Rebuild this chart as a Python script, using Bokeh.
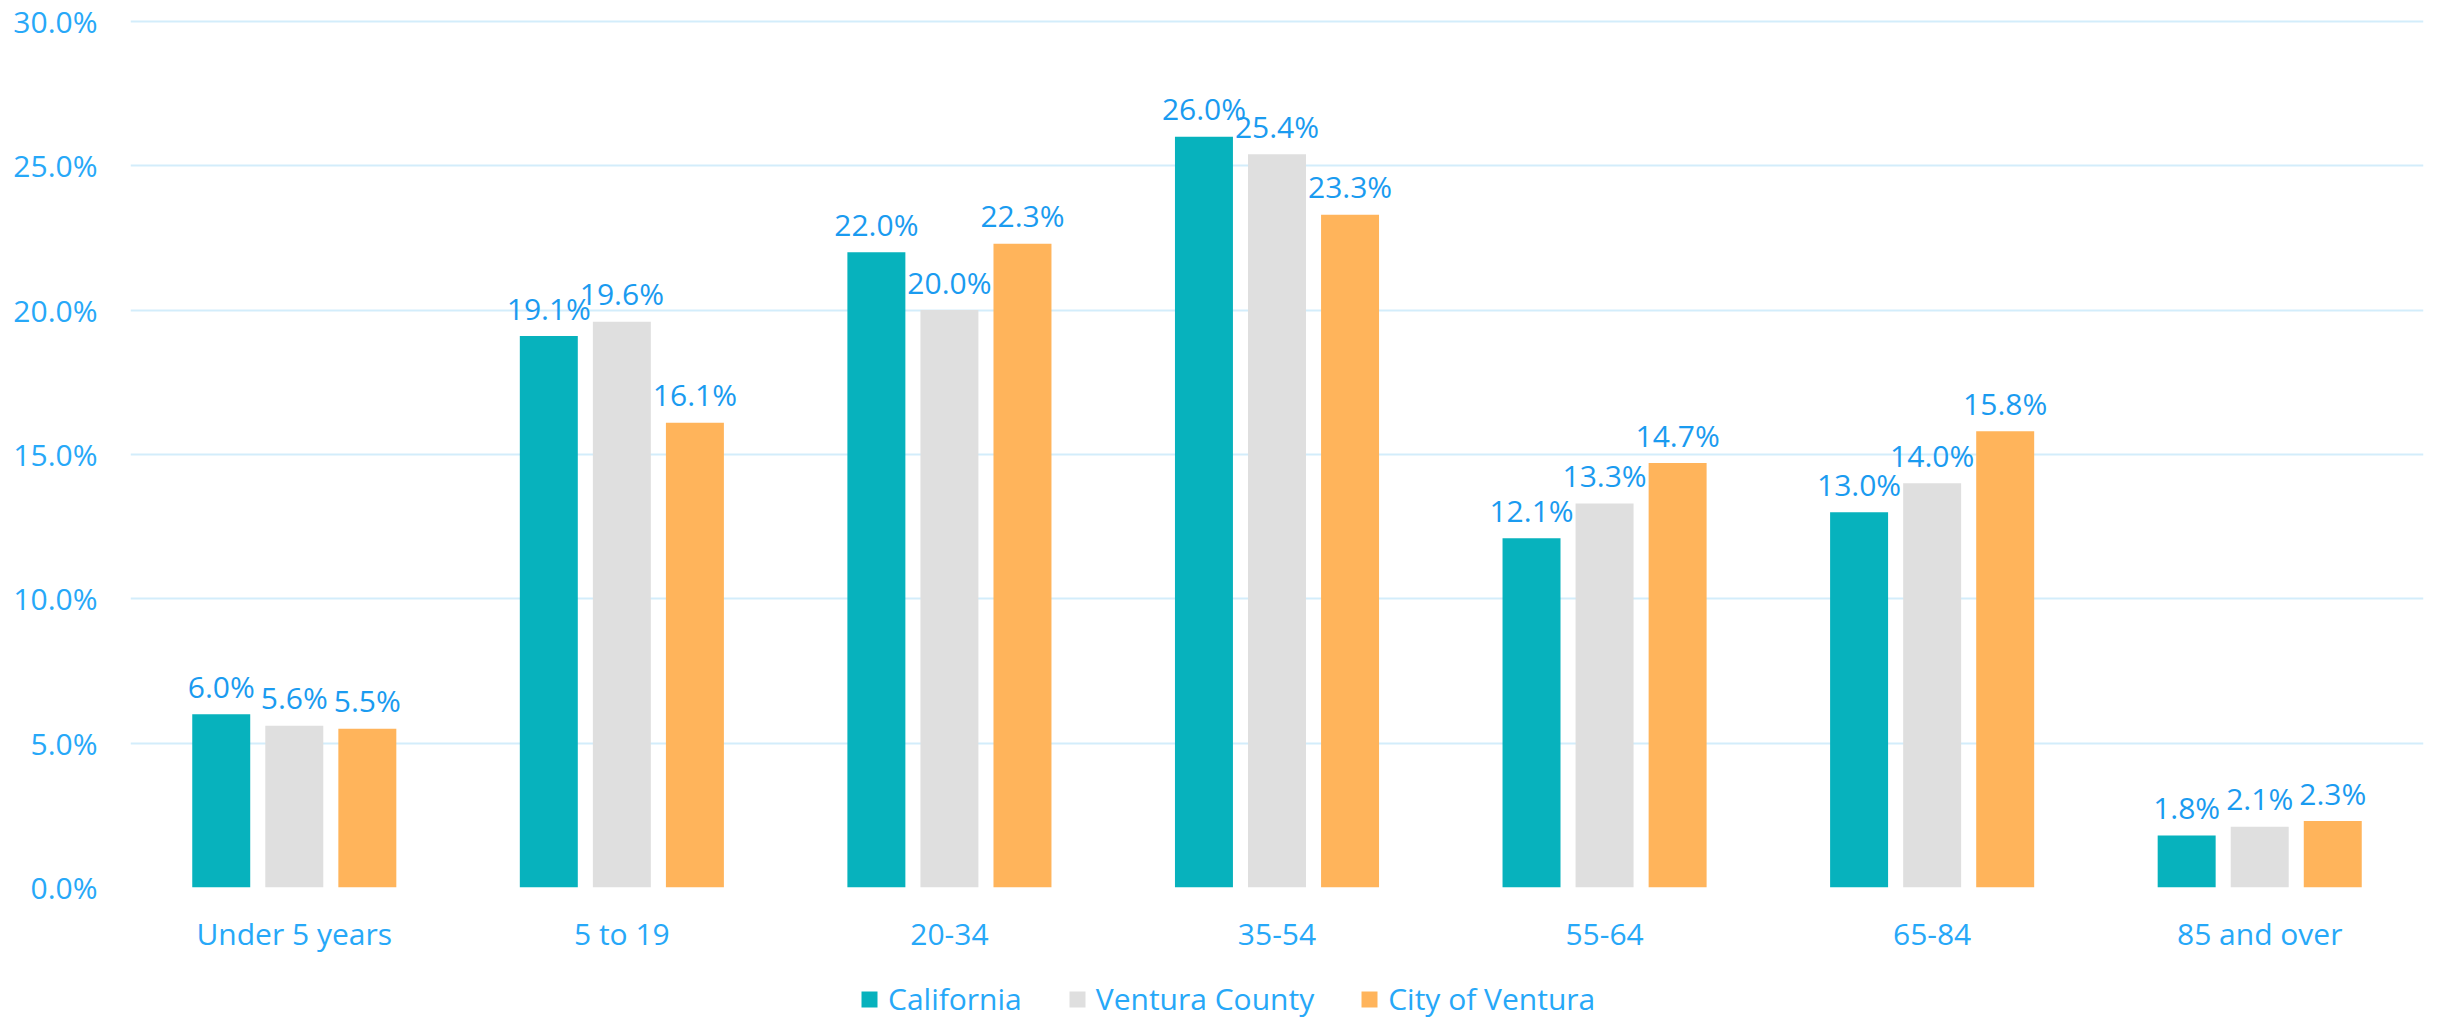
from bokeh.plotting import figure
from bokeh.layouts import column
from bokeh.models import ColumnDataSource, Legend, LegendItem, PrintfTickFormatter, FixedTicker
from bokeh.transform import dodge
from bokeh.core.properties import value
from bokeh.embed import file_html
from bokeh.resources import INLINE

categories = ["Under 5 years", "5 to 19", "20-34", "35-54", "55-64", "65-84", "85 and over"]
series_names = ["California", "Ventura County", "City of Ventura"]
california = [6.0, 19.1, 22.0, 26.0, 12.1, 13.0, 1.8]
ventura_county = [5.6, 19.6, 20.0, 25.4, 13.3, 14.0, 2.1]
city_of_ventura = [5.5, 16.1, 22.3, 23.3, 14.7, 15.8, 2.3]
y_ticks = [0, 5, 10, 15, 20, 25, 30]

colors = ["#07B2BD", "#DFDFDF", "#FFB45B"]
axis_color = "#27A8F8"
label_color = "#1A9BF0"
grid_color = "#D3EDFB"
FONT = "Open Sans"
FS = "30px"

source = ColumnDataSource(dict(
    cat=categories,
    california=california,
    ventura_county=ventura_county,
    city_of_ventura=city_of_ventura,
    california_lbl=[f"{v:.1f}%" for v in california],
    ventura_county_lbl=[f"{v:.1f}%" for v in ventura_county],
    city_of_ventura_lbl=[f"{v:.1f}%" for v in city_of_ventura],
))

MAIN_H = 960
p = figure(x_range=categories, y_range=(0, 30.1), width=2447, height=MAIN_H,
           output_backend="svg", toolbar_location=None,
           min_border_left=130, min_border_right=24, min_border_top=18,
           min_border_bottom=MAIN_H - 887)
p.outline_line_color = None
p.background_fill_color = "white"
p.border_fill_color = "white"

cols = ["california", "ventura_county", "city_of_ventura"]
offsets = [-0.223, 0.0, 0.223]
for col, off, color in zip(cols, offsets, colors):
    p.vbar(x=dodge("cat", off, range=p.x_range), top=col, width=0.177, source=source,
           fill_color=color, line_color=None)
    p.text(x=dodge("cat", off, range=p.x_range), y=col, text=col + "_lbl", source=source,
           text_align="center", text_baseline="alphabetic", y_offset=-28,
           text_font=value(FONT), text_font_size=FS, text_color=label_color)

# axes
p.yaxis.ticker = FixedTicker(ticks=y_ticks)
p.yaxis.formatter = PrintfTickFormatter(format="%.1f%%")
for ax in (p.xaxis[0], p.yaxis[0]):
    ax.axis_line_color = None
    ax.major_tick_line_color = None
    ax.minor_tick_line_color = None
    ax.major_tick_in = 0
    ax.major_tick_out = 0
    ax.major_label_text_font = FONT
    ax.major_label_text_font_size = FS
    ax.major_label_text_color = axis_color
p.yaxis.major_label_standoff = 33
p.xaxis.major_label_standoff = 25

p.xgrid.grid_line_color = None
p.ygrid.grid_line_color = grid_color
p.ygrid.grid_line_width = 2

# legend strip (its own small figure so the legend is not clipped)
LEG_H = 1020 - MAIN_H
lf = figure(x_range=categories, y_range=(0, 1), width=2447, height=LEG_H,
            output_backend="svg", toolbar_location=None,
            x_axis_type=None, y_axis_type=None,
            min_border_left=0, min_border_right=0, min_border_top=0, min_border_bottom=0)
lf.outline_line_color = None
lf.xgrid.visible = False
lf.ygrid.visible = False
leg_renderers = []
for col, color in zip(cols, colors):
    r = lf.vbar(x="cat", top=col, width=0.177, source=source,
                fill_color=color, line_color=None, visible=False)
    leg_renderers.append(r)

legend = Legend(items=[LegendItem(label=n, renderers=[r]) for n, r in zip(series_names, leg_renderers)],
                orientation="horizontal", location=(729, 1),
                glyph_width=20, glyph_height=20, label_standoff=9, spacing=45,
                padding=0, margin=0, border_line_color=None, background_fill_alpha=0,
                inactive_fill_alpha=0,
                label_text_font=FONT, label_text_font_size=FS, label_text_color=axis_color)
lf.add_layout(legend, "center")

layout = column(p, lf, spacing=0)
open("out.html", "w").write(file_html(layout, INLINE))
